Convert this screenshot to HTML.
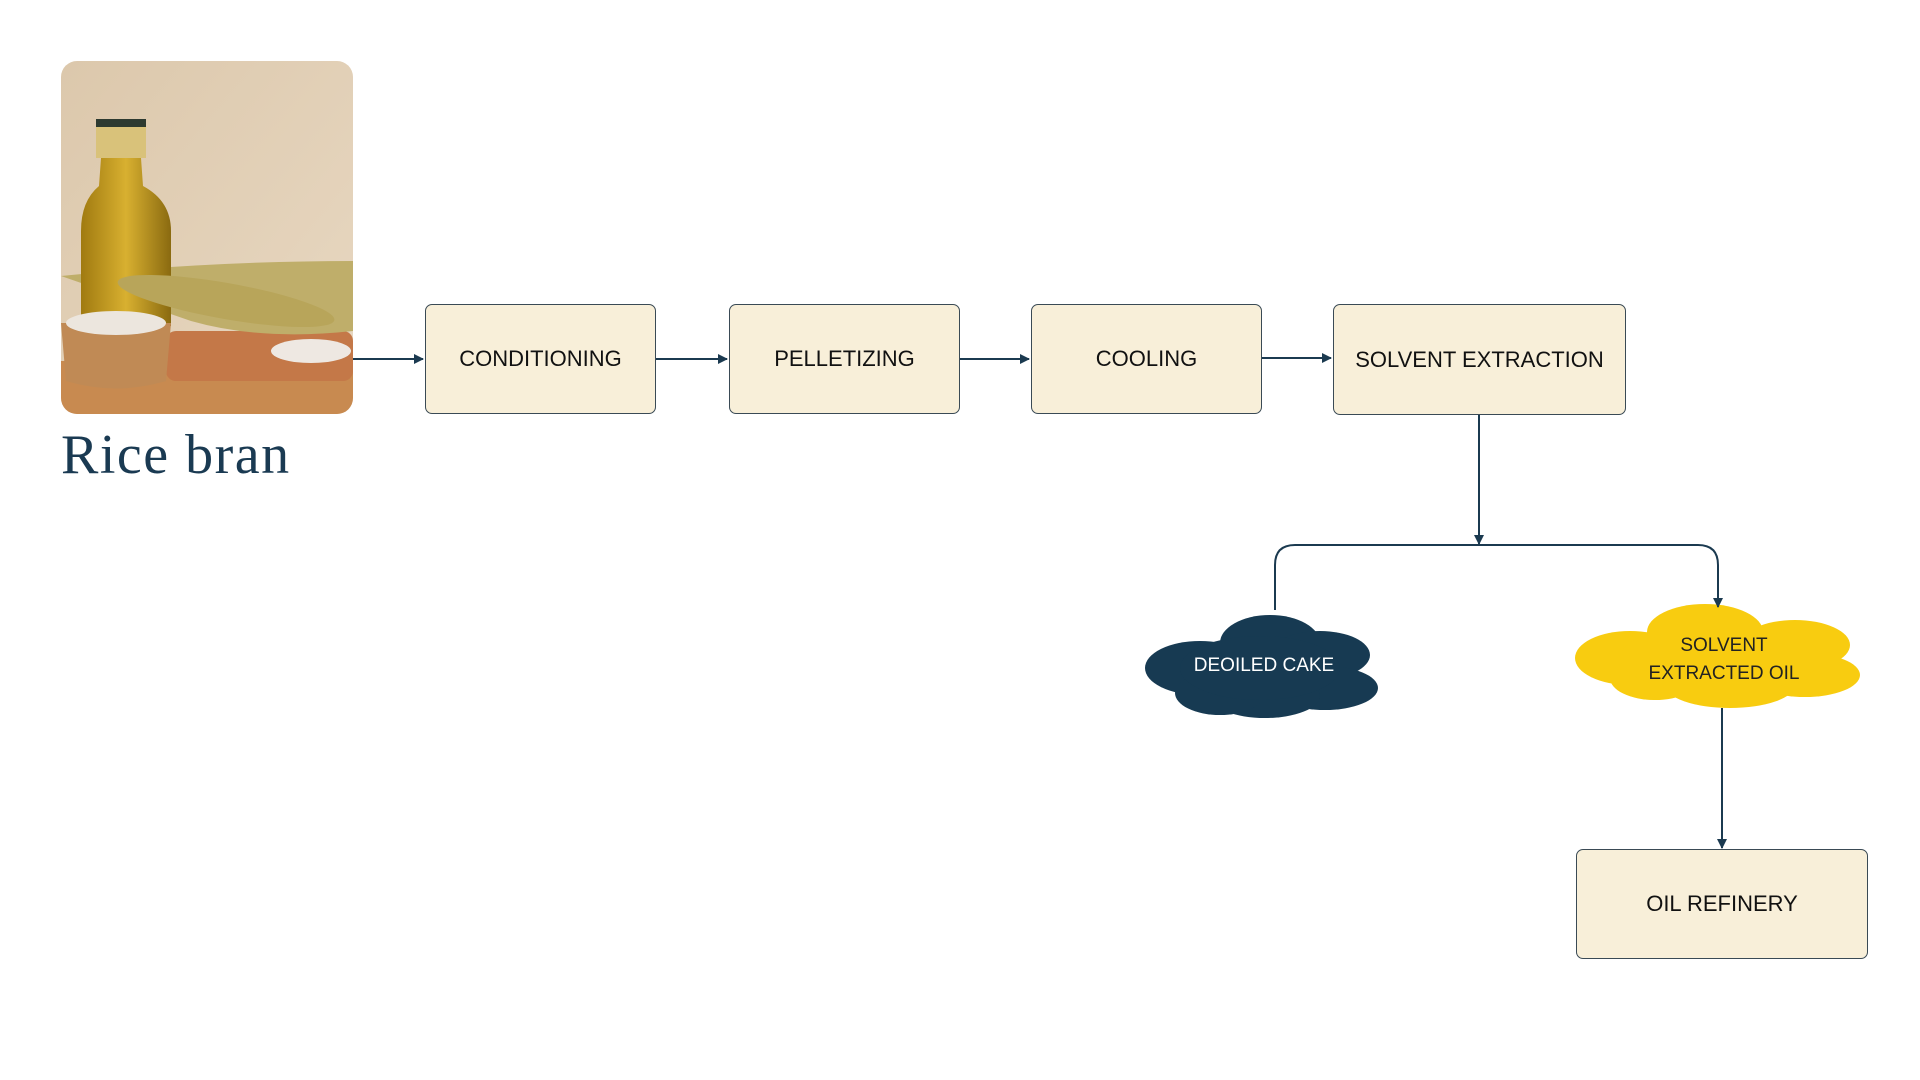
<!DOCTYPE html>
<html><head><meta charset="utf-8"><style>
body{margin:0;width:1920px;height:1080px;background:#fff;position:relative;overflow:hidden;font-family:"Liberation Sans",sans-serif}
.box{position:absolute;background:#f8efd9;border:1px solid #3a4a55;border-radius:7px;box-sizing:border-box;display:flex;align-items:center;justify-content:center;font-size:22px;color:#111}
.t{position:absolute;text-align:center;font-size:19px;line-height:28px}
</style></head><body>
<svg style="position:absolute;left:61px;top:61px" width="292" height="353" viewBox="0 0 292 353">
<defs><clipPath id="c"><rect width="292" height="353" rx="16"/></clipPath>
<linearGradient id="bg" x1="0" y1="0" x2="1" y2="1"><stop offset="0" stop-color="#dcc8ac"/><stop offset="1" stop-color="#e8d8c2"/></linearGradient>
<linearGradient id="oil" x1="0" x2="1"><stop offset="0" stop-color="#a07a10"/><stop offset=".5" stop-color="#d8b030"/><stop offset="1" stop-color="#8a6a10"/></linearGradient></defs>
<g clip-path="url(#c)">
<rect width="292" height="353" fill="url(#bg)"/>
<rect x="0" y="300" width="292" height="53" fill="#c88a50"/>
<rect x="105" y="270" width="187" height="50" rx="10" fill="#c47848"/>
<path d="M0 215 Q150 200 292 200 L292 270 Q200 280 130 260 Z" fill="#bfae6a"/>
<rect x="35" y="62" width="50" height="35" fill="#d9c27a"/>
<rect x="35" y="58" width="50" height="8" fill="#2d3a30"/>
<path d="M40 97 L80 97 L82 125 Q110 140 110 170 L110 265 Q60 280 20 265 L20 170 Q20 140 38 125 Z" fill="url(#oil)"/>
<ellipse cx="165" cy="240" rx="110" ry="18" fill="#b8a55a" transform="rotate(10 165 240)"/>
<path d="M0 262 L110 262 L105 320 Q55 335 5 320 Z" fill="#c08a55"/>
<ellipse cx="55" cy="262" rx="50" ry="12" fill="#ece6de"/>
<ellipse cx="250" cy="290" rx="40" ry="12" fill="#eee8e2"/>
</g></svg>
<div style="position:absolute;left:61px;top:420px;font-family:'Liberation Serif',serif;font-size:56px;letter-spacing:1.5px;color:#1a3a52;line-height:70px">Rice bran</div>

<div class="box" style="left:425px;top:304px;width:231px;height:110px">CONDITIONING</div>
<div class="box" style="left:729px;top:304px;width:231px;height:110px">PELLETIZING</div>
<div class="box" style="left:1031px;top:304px;width:231px;height:110px">COOLING</div>
<div class="box" style="left:1333px;top:304px;width:293px;height:111px">SOLVENT EXTRACTION</div>
<div class="box" style="left:1576px;top:849px;width:292px;height:110px">OIL REFINERY</div>

<svg style="position:absolute;left:0;top:0" width="1920" height="1080">
<defs><marker id="a" markerWidth="5" markerHeight="5" refX="4.5" refY="2.5" orient="auto" markerUnits="strokeWidth"><path d="M0 0 L5 2.5 L0 5Z" fill="#1b3a50"/></marker></defs>
<g fill="#173a52" transform="translate(0,3)">
<ellipse cx="1200" cy="665" rx="55" ry="27"/><ellipse cx="1270" cy="640" rx="50" ry="28"/><ellipse cx="1320" cy="652" rx="50" ry="24"/>
<ellipse cx="1325" cy="685" rx="53" ry="22"/><ellipse cx="1265" cy="693" rx="55" ry="22"/><ellipse cx="1220" cy="690" rx="45" ry="22"/><ellipse cx="1260" cy="665" rx="80" ry="32"/>
</g>
<g fill="#f8cc10">
<ellipse cx="1630" cy="658" rx="55" ry="27"/><ellipse cx="1705" cy="632" rx="58" ry="28"/><ellipse cx="1795" cy="645" rx="55" ry="25"/>
<ellipse cx="1805" cy="675" rx="55" ry="22"/><ellipse cx="1730" cy="685" rx="65" ry="23"/><ellipse cx="1655" cy="678" rx="45" ry="22"/><ellipse cx="1720" cy="658" rx="100" ry="35"/>
</g>
<g stroke="#1b3a50" stroke-width="2" fill="none">
<path d="M353 359 H423" marker-end="url(#a)"/>
<path d="M656 359 H727" marker-end="url(#a)"/>
<path d="M960 359 H1029" marker-end="url(#a)"/>
<path d="M1262 358 H1331" marker-end="url(#a)"/>
<path d="M1479 415 V544" marker-end="url(#a)"/>
<path d="M1275 610 V565 Q1275 545 1295 545 H1698 Q1718 545 1718 565 V607" marker-end="url(#a)"/>
<path d="M1722 708 V848" marker-end="url(#a)"/>
</g>
</svg>
<div class="t" style="left:1164px;top:652px;width:200px;color:#fff">DEOILED CAKE</div>
<div class="t" style="left:1624px;top:632px;width:200px;color:#222">SOLVENT<br>EXTRACTED OIL</div>
</body></html>
